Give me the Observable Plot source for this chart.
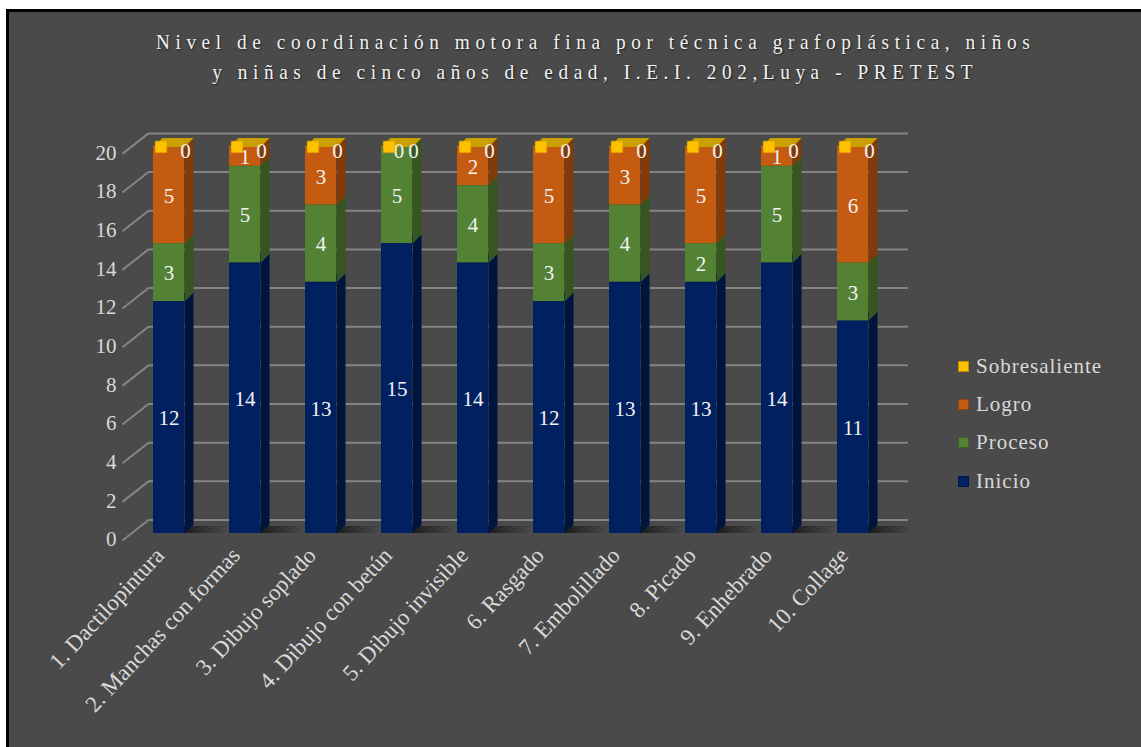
<!DOCTYPE html>
<html><head><meta charset="utf-8">
<script src="https://cdn.jsdelivr.net/npm/d3@7"></script>
<script src="https://cdn.jsdelivr.net/npm/@observablehq/plot@0.6"></script>
<style>
body{margin:0;background:#fff;width:1141px;height:747px;overflow:hidden;position:relative;font-family:"Liberation Serif","Times New Roman",serif;}
#frame{position:absolute;left:6px;top:9px;width:1135px;height:738px;background:#4a4a4a;border-left:3px solid #000;border-top:3px solid #000;box-sizing:border-box;}
#chart{position:absolute;left:0;top:0;}
#title{position:absolute;left:50px;top:27px;width:1091px;text-align:center;font-family:"Liberation Serif",serif;font-size:22px;line-height:30px;color:#f2f2f2;text-shadow:1px 1px 2px rgba(0,0,0,0.6);}
#title span{display:inline-block;white-space:nowrap;letter-spacing:6.3px;transform:scaleX(0.88);}
#legend{position:absolute;left:958px;top:347px;font-family:"Liberation Serif",serif;font-size:21px;color:#d9d9d9;letter-spacing:1px;}
#legend .row{height:38.3px;display:flex;align-items:center;}
#legend .sw{width:11px;height:11px;margin-right:7px;box-sizing:border-box;border:1px solid rgba(0,0,0,0.25);}
</style></head>
<body>
<div id="frame"></div>
<div id="chart"></div>
<div id="title"><span>Nivel de coordinación motora fina por técnica grafoplástica, niños</span><br><span>y niñas de cinco años de edad, I.E.I. 202,Luya - PRETEST</span></div>
<div id="legend"></div>
<script>
const categories = ["1. Dactilopintura","2. Manchas con formas","3. Dibujo soplado","4. Dibujo con betún","5. Dibujo invisible","6. Rasgado","7. Embolillado","8. Picado","9. Enhebrado","10. Collage"];
const inicio = [12,14,13,15,14,12,13,13,14,11];
const proceso = [3,5,4,5,4,3,4,2,5,3];
const logro = [5,1,3,0,2,5,3,5,1,6];
const sobresaliente = [0,0,0,0,0,0,0,0,0,0];
const seriesNames = ["Inicio","Proceso","Logro","Sobresaliente"];
const frontColors = ["#002060","#548235","#c55a11","#ffc000"];
const sideColors = ["#00143f","#37561f","#823a0b","#bf9000"];
const topColors = ["#001a52","#446b2a","#a04a0e","#c9a000"];
const yTicks = [0,2,4,6,8,10,12,14,16,18,20];

const seriesValues = [inicio, proceso, logro, sobresaliente];
const PXX = 76, PXY = 19.33;           // px per unit (for 3D depth conversion)
const hw = 15.5 / PXX;                  // half bar width
const ddx = 9 / PXX, ddy = 9 / PXY;     // depth of bars
const rows = [];
categories.forEach((c, i) => {
  let acc = 0;
  seriesValues.forEach((vals, s) => {
    const v = vals[i];
    rows.push({i, cat: c, s, series: seriesNames[s], value: v, y1: acc, y2: acc + v});
    acc += v;
  });
});

const marks = [];
// back gridlines & left diagonals
marks.push(Plot.ruleY(yTicks, {y: d => d, x1: -0.27, x2: 9.73, dy: -13.5, stroke: "#858585", strokeWidth: 2}));
marks.push(Plot.link(yTicks, {x1: -0.612, x2: -0.27, y1: d => d - 7 / PXY, y2: d => d + 13.5 / PXY, stroke: "#858585", strokeWidth: 2}));
// floor shadows
marks.push(Plot.rect(categories, {x1: (d, i) => i + hw, x2: (d, i) => i + hw + 45 / PXX, y1: 0, y2: 7 / PXY, fill: "url(#shadowGrad)"}));

seriesNames.forEach((name, s) => {
  const rs = rows.filter(r => r.s === s);
  marks.push(Plot.rect(rs, {x1: r => r.i - hw, x2: r => r.i + hw, y1: "y1", y2: "y2", fill: frontColors[s]}));
  const side = [], top = [];
  rs.forEach(r => {
    side.push({id: r.i, x: r.i + hw, y: r.y1}, {id: r.i, x: r.i + hw + ddx, y: r.y1 + ddy}, {id: r.i, x: r.i + hw + ddx, y: r.y2 + ddy}, {id: r.i, x: r.i + hw, y: r.y2});
    top.push({id: r.i, x: r.i - hw, y: r.y2}, {id: r.i, x: r.i + hw, y: r.y2}, {id: r.i, x: r.i + hw + ddx, y: r.y2 + ddy}, {id: r.i, x: r.i - hw + ddx, y: r.y2 + ddy});
  });
  marks.push(Plot.line(side, {x: "x", y: "y", z: "id", fill: sideColors[s], stroke: "none", curve: "linear"}));
  marks.push(Plot.line(top, {x: "x", y: "y", z: "id", fill: topColors[s], stroke: "none", curve: "linear"}));
});

// data labels
const txt = {fill: "#f2f2f2", fontSize: 21, fontFamily: "Liberation Serif, serif"};
marks.push(Plot.text(rows.filter(r => r.value > 0), {x: "i", y: r => (r.y1 + r.y2) / 2, text: r => String(r.value), dy: 1, ...txt}));
marks.push(Plot.text(rows.filter(r => r.value === 0 && r.s === 2), {x: "i", y: "y2", text: r => String(r.value), dx: 2, dy: 4, ...txt}));
marks.push(Plot.dot(rows.filter(r => r.s === 3), {x: "i", y: "y2", dx: -8, dy: 0, symbol: "square", r: 6.5, fill: frontColors[3], stroke: "#d9a400", strokeWidth: 0.5}));
marks.push(Plot.text(rows.filter(r => r.s === 3), {x: "i", y: "y2", text: r => String(r.value), dx: 16.5, dy: 4, ...txt}));

// y tick labels
marks.push(Plot.text(yTicks, {x: -0.69, y: d => d, text: d => String(d), dy: 6, textAnchor: "end", fill: "#d9d9d9", fontSize: 21, fontFamily: "Liberation Serif, serif"}));
// x labels
marks.push(Plot.text(categories, {x: (d, i) => i, y: 0, text: d => d, rotate: -47, textAnchor: "end", dx: -9, dy: 18, fill: "#d9d9d9", fontSize: 23, fontFamily: "Liberation Serif, serif", ariaLabel: "xlabels"}));

const plot = Plot.plot({
  width: 1141, height: 747, margin: 0,
  x: {domain: [0, 9], range: [168.5, 852.5], axis: null},
  y: {domain: [0, 20], range: [533, 146.4], axis: null},
  style: {background: "transparent", overflow: "visible"},
  marks
});
const svg = d3.select(plot);
svg.selectAll('g[aria-label="xlabels"] text').style("letter-spacing", "2.5px");
const defs = svg.insert("defs", ":first-child");
const g = defs.append("linearGradient").attr("id", "shadowGrad").attr("x1", "0").attr("x2", "1").attr("y1", "0").attr("y2", "0");
g.append("stop").attr("offset", "0").attr("stop-color", "#000").attr("stop-opacity", 0.6);
g.append("stop").attr("offset", "1").attr("stop-color", "#000").attr("stop-opacity", 0);
document.getElementById("chart").appendChild(plot);

const legend = d3.select("#legend");
[3, 2, 1, 0].forEach(s => {
  const row = legend.append("div").attr("class", "row");
  row.append("div").attr("class", "sw").style("background", frontColors[s]);
  row.append("span").text(seriesNames[s]);
});
</script>
</body></html>
